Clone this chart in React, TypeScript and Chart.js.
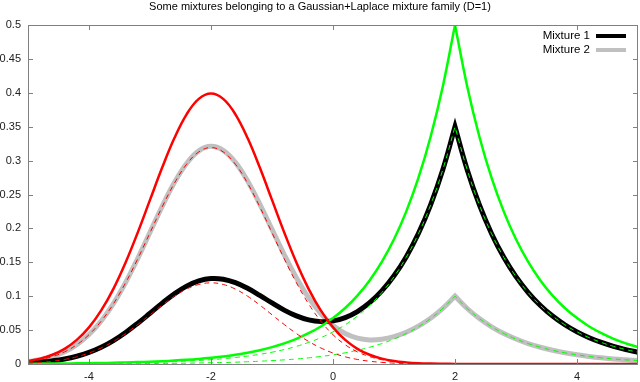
import React, { useEffect, useRef } from "react";
import { Chart, registerables } from "chart.js";
Chart.register(...registerables);

const TITLE = "Some mixtures belonging to a Gaussian+Laplace mixture family (D=1)";
const X_TICKS = [-4, -2, 0, 2, 4];
const Y_TICKS = [0, 0.05, 0.1, 0.15, 0.2, 0.25, 0.3, 0.35, 0.4, 0.45, 0.5];

// sample positions (x = 2 listed twice: the Laplace cusp)
const X = [
  -5, -4.8, -4.6, -4.4, -4.2, -4, -3.8, -3.6, -3.4, -3.2,
  -3, -2.8, -2.6, -2.4, -2.2, -2, -1.8, -1.6, -1.4, -1.2,
  -1, -0.8, -0.6, -0.4, -0.2, 0, 0.2, 0.4, 0.6, 0.8,
  1, 1.2, 1.4, 1.6, 1.8, 2, 2, 2.2, 2.4, 2.6, 2.8,
  3, 3.2, 3.4, 3.6, 3.8, 4, 4.2, 4.4, 4.6, 4.8, 5,
];

// Gaussian component (red)
const GAUSS = [
  0.0044, 0.0079, 0.0136, 0.0224, 0.0355, 0.0540, 0.0790, 0.1109, 0.1497, 0.1942,
  0.2420, 0.2897, 0.3332, 0.3683, 0.3910, 0.3989, 0.3910, 0.3683, 0.3332, 0.2897,
  0.2420, 0.1942, 0.1497, 0.1109, 0.0790, 0.0540, 0.0355, 0.0224, 0.0136, 0.0079,
  0.0044, 0.0024, 0.0012, 0.0006, 0.0003, 0.0001, 0.0001, 0.0001, 0, 0, 0,
  0, 0, 0, 0, 0, 0, 0, 0, 0, 0, 0,
];

// Laplace component (green)
const LAPLACE = [
  0.0005, 0.0006, 0.0007, 0.0008, 0.0010, 0.0012, 0.0015, 0.0018, 0.0023, 0.0028,
  0.0034, 0.0041, 0.0050, 0.0061, 0.0075, 0.0092, 0.0112, 0.0137, 0.0167, 0.0204,
  0.0249, 0.0304, 0.0371, 0.0454, 0.0554, 0.0677, 0.0826, 0.1009, 0.1233, 0.1506,
  0.1839, 0.2247, 0.2744, 0.3352, 0.4094, 0.5000, 0.5000, 0.4094, 0.3352, 0.2744, 0.2247,
  0.1839, 0.1506, 0.1233, 0.1009, 0.0826, 0.0677, 0.0554, 0.0454, 0.0371, 0.0304, 0.0249,
];

// Mixture 1 (black)
const MIX1 = [
  0.0016, 0.0028, 0.0046, 0.0073, 0.0114, 0.0171, 0.0247, 0.0346, 0.0465, 0.0602,
  0.0749, 0.0898, 0.1035, 0.1148, 0.1226, 0.1261, 0.1251, 0.1200, 0.1116, 0.1012,
  0.0900, 0.0795, 0.0709, 0.0650, 0.0625, 0.0636, 0.0685, 0.0774, 0.0904, 0.1078,
  0.1301, 0.1580, 0.1925, 0.2348, 0.2866, 0.3500, 0.3500, 0.2866, 0.2346, 0.1921, 0.1573,
  0.1288, 0.1054, 0.0863, 0.0707, 0.0579, 0.0474, 0.0388, 0.0318, 0.0260, 0.0213, 0.0174,
];

// Mixture 2 (grey)
const MIX2 = [
  0.0036, 0.0064, 0.0110, 0.0181, 0.0286, 0.0434, 0.0635, 0.0891, 0.1202, 0.1559,
  0.1943, 0.2326, 0.2676, 0.2958, 0.3143, 0.3210, 0.3151, 0.2973, 0.2699, 0.2358,
  0.1986, 0.1614, 0.1272, 0.0978, 0.0742, 0.0567, 0.0449, 0.0381, 0.0355, 0.0365,
  0.0403, 0.0468, 0.0559, 0.0675, 0.0821, 0.1001, 0.1001, 0.0819, 0.0670, 0.0549, 0.0449,
  0.0368, 0.0301, 0.0247, 0.0202, 0.0165, 0.0135, 0.0111, 0.0091, 0.0074, 0.0061, 0.0050,
];

// Weighted components (dashed)
const MIX1_GAUSS = [
  0.0013, 0.0024, 0.0041, 0.0067, 0.0106, 0.0162, 0.0237, 0.0333, 0.0449, 0.0583,
  0.0726, 0.0869, 0.1000, 0.1105, 0.1173, 0.1197, 0.1173, 0.1105, 0.1000, 0.0869,
  0.0726, 0.0583, 0.0449, 0.0333, 0.0237, 0.0162, 0.0106, 0.0067, 0.0041, 0.0024,
  0.0013, 0.0007, 0.0004, 0.0002, 0.0001, 0, 0, 0, 0, 0, 0,
  0, 0, 0, 0, 0, 0, 0, 0, 0, 0, 0,
];
const MIX2_GAUSS = [
  0.0035, 0.0063, 0.0109, 0.0179, 0.0284, 0.0432, 0.0632, 0.0887, 0.1198, 0.1553,
  0.1936, 0.2318, 0.2666, 0.2946, 0.3128, 0.3192, 0.3128, 0.2946, 0.2666, 0.2318,
  0.1936, 0.1553, 0.1198, 0.0887, 0.0632, 0.0432, 0.0284, 0.0179, 0.0109, 0.0063,
  0.0035, 0.0019, 0.0010, 0.0005, 0.0002, 0.0001, 0.0001, 0, 0, 0, 0,
  0, 0, 0, 0, 0, 0, 0, 0, 0, 0, 0,
];
const MIX1_LAPLACE = [
  0.0003, 0.0004, 0.0005, 0.0006, 0.0007, 0.0009, 0.0011, 0.0013, 0.0016, 0.0019,
  0.0024, 0.0029, 0.0035, 0.0043, 0.0052, 0.0064, 0.0078, 0.0096, 0.0117, 0.0143,
  0.0174, 0.0213, 0.0260, 0.0318, 0.0388, 0.0474, 0.0579, 0.0707, 0.0863, 0.1054,
  0.1288, 0.1573, 0.1921, 0.2346, 0.2866, 0.3500, 0.3500, 0.2866, 0.2346, 0.1921, 0.1573,
  0.1288, 0.1054, 0.0863, 0.0707, 0.0579, 0.0474, 0.0388, 0.0318, 0.0260, 0.0213, 0.0174,
];
const MIX2_LAPLACE = [
  0.0001, 0.0001, 0.0001, 0.0002, 0.0002, 0.0002, 0.0003, 0.0004, 0.0005, 0.0006,
  0.0007, 0.0008, 0.0010, 0.0012, 0.0015, 0.0018, 0.0022, 0.0027, 0.0033, 0.0041,
  0.0050, 0.0061, 0.0074, 0.0091, 0.0111, 0.0135, 0.0165, 0.0202, 0.0247, 0.0301,
  0.0368, 0.0449, 0.0549, 0.0670, 0.0819, 0.1000, 0.1000, 0.0819, 0.0670, 0.0549, 0.0449,
  0.0368, 0.0301, 0.0247, 0.0202, 0.0165, 0.0135, 0.0111, 0.0091, 0.0074, 0.0061, 0.0050,
];

const LEGEND = [
  { label: "Mixture 1", color: "#000000" },
  { label: "Mixture 2", color: "#c0c0c0" },
];

const FONT = "'Liberation Sans', Arial, Helvetica, sans-serif";

export default function App() {
  const ref = useRef<HTMLCanvasElement>(null);

  useEffect(() => {
    document.body.style.margin = "0";
    const canvas = ref.current;
    if (!canvas) return;
    const pts = (ys: number[]) => X.map((x, i) => ({ x, y: ys[i] }));

    const framePlugin = {
      id: "gnuFrame",
      afterDraw(chart: any) {
        const { ctx, chartArea } = chart;
        const { left, right, top, bottom } = chartArea;
        const xs = chart.scales.x;
        const ys = chart.scales.y;
        ctx.save();
        // title
        ctx.fillStyle = "#000";
        ctx.font = `11px ${FONT}`;
        ctx.textAlign = "center";
        ctx.textBaseline = "middle";
        ctx.fillText(TITLE, 320, 7);
        // border
        ctx.strokeStyle = "#808080";
        ctx.lineWidth = 1;
        ctx.beginPath();
        ctx.rect(Math.round(left) + 0.5, Math.round(top) + 0.5, Math.round(right - left) - 1, Math.round(bottom - top));
        ctx.stroke();
        // inward ticks
        ctx.beginPath();
        X_TICKS.forEach((v) => {
          const px = Math.round(xs.getPixelForValue(v)) + 0.5;
          ctx.moveTo(px, bottom);
          ctx.lineTo(px, bottom - 5);
          ctx.moveTo(px, top);
          ctx.lineTo(px, top + 5);
        });
        Y_TICKS.forEach((v) => {
          const py = Math.round(ys.getPixelForValue(v)) + 0.5;
          ctx.moveTo(left, py);
          ctx.lineTo(left + 5, py);
          ctx.moveTo(right, py);
          ctx.lineTo(right - 5, py);
        });
        ctx.stroke();
        // legend
        ctx.font = `11.5px ${FONT}`;
        ctx.textAlign = "right";
        LEGEND.forEach((item, i) => {
          const y = 36 + i * 14;
          ctx.fillStyle = "#000";
          ctx.fillText(item.label, 590, y);
          ctx.strokeStyle = item.color;
          ctx.lineWidth = 4;
          ctx.beginPath();
          ctx.moveTo(596, y);
          ctx.lineTo(626, y);
          ctx.stroke();
        });
        ctx.restore();
      },
    };

    const base = { pointRadius: 0, fill: false, tension: 0.4 };

    const chart = new Chart(canvas, {
      type: "line",
      data: {
        datasets: [
          { ...base, label: "Mixture 1", data: pts(MIX1), borderColor: "#000000", borderWidth: 5, order: 3 },
          { ...base, label: "Mixture 2", data: pts(MIX2), borderColor: "#c0c0c0", borderWidth: 5, order: 4 },
          { ...base, label: "Gaussian", data: pts(GAUSS), borderColor: "#ff0000", borderWidth: 2.5, order: 2 },
          { ...base, label: "Laplace", data: pts(LAPLACE), borderColor: "#00ff00", borderWidth: 2.5, order: 2 },
          { ...base, label: "0.3 Gaussian", data: pts(MIX1_GAUSS), borderColor: "#ff0000", borderWidth: 1, borderDash: [5, 4], order: 1 },
          { ...base, label: "0.8 Gaussian", data: pts(MIX2_GAUSS), borderColor: "#ff0000", borderWidth: 1, borderDash: [5, 4], order: 1 },
          { ...base, label: "0.7 Laplace", data: pts(MIX1_LAPLACE), borderColor: "#00ff00", borderWidth: 1, borderDash: [5, 4], order: 1 },
          { ...base, label: "0.2 Laplace", data: pts(MIX2_LAPLACE), borderColor: "#00ff00", borderWidth: 1, borderDash: [5, 4], order: 1 },
        ],
      },
      options: {
        responsive: false,
        animation: false,
        devicePixelRatio: 1,
        layout: { padding: { top: 25, right: 2, left: 0, bottom: 0 } },
        plugins: { legend: { display: false }, tooltip: { enabled: false }, title: { display: false } },
        scales: {
          x: {
            type: "linear",
            min: -5,
            max: 5,
            afterBuildTicks: (s: any) => {
              s.ticks = X_TICKS.map((v) => ({ value: v }));
            },
            afterFit: (s: any) => {
              s.height = 18;
            },
            grid: { display: false, drawTicks: false },
            border: { display: false },
            ticks: {
              autoSkip: false,
              maxRotation: 0,
              padding: 6,
              color: "#222",
              font: { size: 11, family: FONT },
              callback: (v: any) => String(v),
            },
          },
          y: {
            type: "linear",
            min: 0,
            max: 0.5,
            afterBuildTicks: (s: any) => {
              s.ticks = Y_TICKS.map((v) => ({ value: v }));
            },
            afterFit: (s: any) => {
              s.width = 28;
            },
            grid: { display: false, drawTicks: false },
            border: { display: false },
            ticks: {
              autoSkip: false,
              padding: 7,
              color: "#222",
              font: { size: 11, family: FONT },
              callback: (v: any) => String(Number(Number(v).toFixed(2))),
            },
          },
        },
      },
      plugins: [framePlugin],
    });
    return () => chart.destroy();
  }, []);

  return (
    <div style={{ width: 640, height: 382 }}>
      <canvas ref={ref} width={640} height={382} style={{ display: "block" }} />
    </div>
  );
}
